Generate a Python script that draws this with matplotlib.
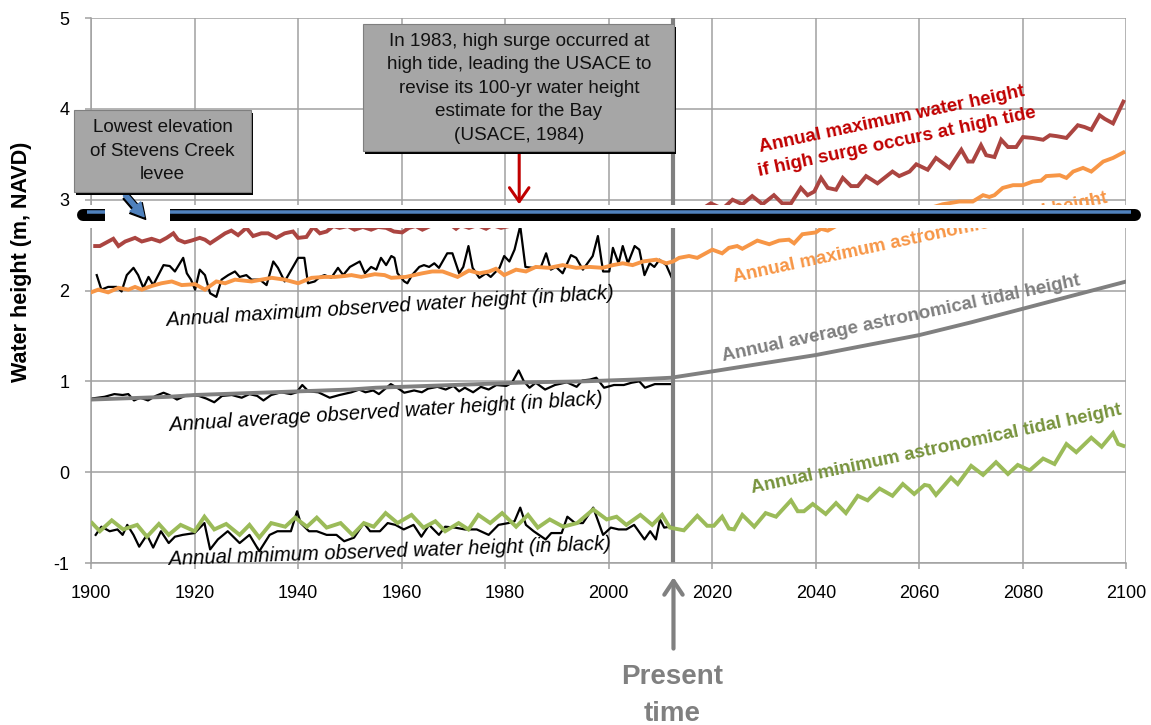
import matplotlib.pyplot as plt
from matplotlib import transforms
from matplotlib.patches import Rectangle, FancyArrowPatch

plt.rcParams['font.family'] = ['Liberation Sans', 'DejaVu Sans']
plt.rcParams['axes.unicode_minus'] = False

# ---- data (year, metres NAVD) ----
present_year = 2012.5
levee_elev = 2.86

RED = [(1900.8, 2.49), (1901.7, 2.49), (1903.0, 2.53), (1904.3, 2.57), (1905.3, 2.49), (1906.6, 2.54),
       (1908.5, 2.58), (1909.8, 2.54), (1911.7, 2.57), (1913.3, 2.54), (1914.6, 2.58), (1915.9, 2.63),
       (1916.8, 2.56), (1918.1, 2.53), (1919.4, 2.55), (1921.0, 2.58), (1922.0, 2.56), (1923.0, 2.52),
       (1924.6, 2.58), (1925.9, 2.63), (1927.1, 2.66), (1928.4, 2.61), (1930.0, 2.69), (1931.3, 2.60),
       (1932.9, 2.63), (1934.2, 2.63), (1935.8, 2.58), (1937.4, 2.63), (1939.0, 2.65), (1940.0, 2.58),
       (1941.6, 2.59), (1942.9, 2.70), (1944.2, 2.63), (1945.5, 2.65), (1946.8, 2.71), (1948.0, 2.69),
       (1949.6, 2.71), (1950.9, 2.67), (1952.5, 2.70), (1954.1, 2.67), (1955.4, 2.70), (1957.0, 2.69),
       (1958.5, 2.65), (1960.1, 2.64), (1961.4, 2.69), (1962.7, 2.71), (1964.0, 2.67), (1965.9, 2.72),
       (1967.2, 2.71), (1968.8, 2.75), (1970.5, 2.68), (1971.4, 2.72), (1973.0, 2.69), (1974.6, 2.72),
       (1976.3, 2.68), (1977.5, 2.72), (1979.2, 2.69), (1980.8, 2.71), (1981.7, 2.74), (1983.0, 2.78),
       (1985.0, 2.76), (1988.0, 2.79), (1990.0, 2.77), (1993.0, 2.80), (1995.0, 2.78), (1997.9, 2.75),
       (2000.0, 2.80), (2003.0, 2.82), (2006.0, 2.80), (2009.0, 2.84), (2012.0, 2.83), (2015.0, 2.88),
       (2017.0, 2.86), (2019.7, 2.96), (2022.0, 2.90), (2023.9, 3.00), (2025.8, 2.95), (2027.7, 3.04),
       (2029.7, 2.95), (2031.9, 3.05), (2033.5, 2.96), (2035.2, 2.96), (2037.1, 3.13), (2038.4, 3.05),
       (2039.7, 3.09), (2041.0, 3.24), (2042.3, 3.13), (2043.9, 3.11), (2045.2, 3.24), (2046.8, 3.15),
       (2048.1, 3.15), (2049.7, 3.26), (2051.9, 3.18), (2054.8, 3.31), (2056.1, 3.26), (2058.1, 3.31),
       (2059.4, 3.39), (2061.6, 3.33), (2063.2, 3.46), (2065.8, 3.35), (2068.1, 3.55), (2069.4, 3.42),
       (2070.3, 3.42), (2071.9, 3.60), (2072.9, 3.49), (2074.5, 3.47), (2075.8, 3.66), (2077.1, 3.58),
       (2078.7, 3.58), (2080.0, 3.69), (2081.9, 3.68), (2083.9, 3.66), (2085.2, 3.71), (2086.5, 3.70),
       (2088.4, 3.68), (2090.6, 3.82), (2091.9, 3.80), (2093.2, 3.77), (2094.8, 3.93), (2095.8, 3.89),
       (2097.4, 3.84), (2099.4, 4.08)]

ORANGE = [(1900.0, 1.98), (1901.4, 2.01), (1903.3, 1.98), (1905.3, 2.03), (1907.2, 2.01), (1908.5, 2.04),
          (1909.8, 2.01), (1911.7, 2.05), (1913.6, 2.08), (1915.6, 2.10), (1917.5, 2.06), (1920.1, 2.07),
          (1922.0, 2.01), (1924.2, 2.10), (1925.9, 2.08), (1927.8, 2.12), (1931.0, 2.10), (1932.9, 2.12),
          (1934.9, 2.14), (1937.4, 2.12), (1940.0, 2.08), (1942.6, 2.14), (1945.1, 2.15), (1947.1, 2.15),
          (1949.0, 2.16), (1950.3, 2.17), (1952.2, 2.15), (1954.8, 2.18), (1956.7, 2.17), (1958.0, 2.14),
          (1960.8, 2.15), (1962.4, 2.17), (1964.0, 2.19), (1965.9, 2.21), (1967.9, 2.21), (1970.8, 2.15),
          (1973.0, 2.22), (1975.0, 2.19), (1976.9, 2.21), (1978.2, 2.24), (1979.8, 2.17), (1982.1, 2.23),
          (1984.0, 2.21), (1985.9, 2.26), (1988.5, 2.25), (1991.1, 2.28), (1993.7, 2.25), (1996.3, 2.26),
          (1998.8, 2.25), (2000.8, 2.28), (2002.7, 2.30), (2004.6, 2.28), (2006.6, 2.32), (2009.2, 2.34),
          (2011.1, 2.30), (2012.4, 2.32), (2013.6, 2.36), (2015.5, 2.38), (2017.1, 2.36), (2020.0, 2.45),
          (2021.9, 2.41), (2023.2, 2.47), (2024.8, 2.49), (2025.8, 2.46), (2028.7, 2.55), (2031.0, 2.51),
          (2032.9, 2.55), (2034.8, 2.56), (2035.8, 2.52), (2037.4, 2.62), (2040.0, 2.64), (2041.0, 2.68),
          (2042.3, 2.66), (2043.9, 2.71), (2046.5, 2.73), (2049.0, 2.74), (2052.0, 2.78), (2055.0, 2.82),
          (2058.0, 2.86), (2061.0, 2.89), (2064.5, 2.95), (2067.7, 2.98), (2070.3, 2.98), (2072.3, 3.05),
          (2073.5, 3.03), (2074.5, 3.05), (2076.1, 3.13), (2078.1, 3.16), (2080.0, 3.16), (2081.9, 3.20),
          (2083.5, 3.21), (2084.5, 3.26), (2087.1, 3.27), (2088.4, 3.24), (2089.7, 3.31), (2091.6, 3.35),
          (2093.2, 3.31), (2095.5, 3.42), (2097.4, 3.46), (2099.4, 3.52)]

GRAY = [(1900, 0.80), (1905, 0.81), (1910, 0.82), (1915, 0.83), (1920, 0.85), (1925, 0.86), (1930, 0.87),
        (1935, 0.88), (1940, 0.89), (1945, 0.90), (1950, 0.91), (1955, 0.93), (1960, 0.94), (1965, 0.95),
        (1970, 0.96), (1975, 0.97), (1980, 0.98), (1985, 0.99), (1990, 0.995), (1995, 1.00), (2000, 1.01),
        (2005, 1.02), (2012, 1.04), (2020, 1.11), (2030, 1.20), (2040, 1.29), (2050, 1.40), (2060, 1.51),
        (2070, 1.65), (2080, 1.80), (2090, 1.95), (2100, 2.10)]

GREEN = [(1900.2, -0.56), (1901.7, -0.65), (1904.0, -0.53), (1906.2, -0.63), (1908.9, -0.58), (1910.8, -0.71),
         (1913.1, -0.57), (1915.0, -0.69), (1917.3, -0.58), (1920.0, -0.65), (1921.9, -0.49), (1923.8, -0.63),
         (1926.1, -0.57), (1928.7, -0.69), (1930.6, -0.58), (1932.5, -0.72), (1934.8, -0.56), (1937.5, -0.60),
         (1939.4, -0.50), (1941.7, -0.60), (1943.6, -0.50), (1945.5, -0.61), (1948.2, -0.56), (1950.5, -0.69),
         (1952.7, -0.56), (1954.6, -0.60), (1956.9, -0.45), (1959.2, -0.56), (1961.9, -0.47), (1964.2, -0.61),
         (1966.5, -0.54), (1968.4, -0.65), (1971.0, -0.56), (1972.9, -0.63), (1974.8, -0.47), (1977.1, -0.56),
         (1979.4, -0.45), (1982.1, -0.60), (1984.4, -0.47), (1986.3, -0.61), (1988.6, -0.52), (1991.2, -0.60),
         (1993.9, -0.56), (1997.0, -0.41), (1999.6, -0.52), (2001.5, -0.49), (2003.4, -0.58), (2006.1, -0.47),
         (2008.4, -0.58), (2010.3, -0.47), (2011.8, -0.61), (2014.5, -0.64), (2017.1, -0.48), (2019.0, -0.59),
         (2020.3, -0.59), (2021.9, -0.49), (2023.2, -0.62), (2024.2, -0.63), (2025.8, -0.47), (2028.1, -0.60),
         (2030.3, -0.45), (2032.3, -0.49), (2035.2, -0.31), (2036.5, -0.43), (2037.7, -0.43), (2039.4, -0.35),
         (2041.9, -0.46), (2043.9, -0.34), (2045.8, -0.45), (2048.1, -0.26), (2050.0, -0.31), (2052.3, -0.18),
         (2054.8, -0.26), (2056.8, -0.13), (2059.0, -0.24), (2061.0, -0.14), (2061.9, -0.15), (2063.2, -0.25),
         (2066.1, -0.06), (2067.4, -0.13), (2070.0, 0.07), (2072.3, -0.03), (2074.8, 0.11), (2077.1, -0.02),
         (2079.0, 0.08), (2081.3, 0.02), (2083.9, 0.15), (2086.1, 0.09), (2088.4, 0.31), (2090.3, 0.22),
         (2093.2, 0.38), (2095.2, 0.28), (2097.4, 0.43), (2098.4, 0.31), (2099.4, 0.29)]

OBS_MAX = [(1901.1, 2.17), (1902.0, 2.01), (1903.3, 2.04), (1905.0, 2.04), (1905.9, 1.99), (1906.9, 2.17),
           (1908.2, 2.25), (1909.1, 2.17), (1910.1, 2.03), (1911.1, 2.15), (1912.0, 2.06), (1914.0, 2.28),
           (1915.2, 2.27), (1916.2, 2.21), (1917.8, 2.36), (1918.5, 2.19), (1919.3, 2.12), (1920.1, 2.01),
           (1921.0, 2.23), (1922.0, 2.17), (1923.0, 1.97), (1924.2, 1.93), (1925.2, 2.12), (1926.5, 2.17),
           (1927.8, 2.21), (1928.7, 2.15), (1930.0, 2.17), (1931.0, 2.12), (1932.6, 2.12), (1933.9, 2.06),
           (1935.2, 2.32), (1936.1, 2.25), (1937.4, 2.10), (1938.7, 2.23), (1940.0, 2.36), (1941.2, 2.36),
           (1941.9, 2.08), (1943.2, 2.10), (1944.2, 2.15), (1945.1, 2.17), (1946.4, 2.14), (1947.7, 2.25),
           (1948.7, 2.17), (1950.0, 2.26), (1951.9, 2.32), (1952.9, 2.19), (1954.1, 2.26), (1955.1, 2.23),
           (1956.0, 2.36), (1957.0, 2.28), (1958.0, 2.38), (1958.6, 2.36), (1959.2, 2.19), (1960.5, 2.10),
           (1961.1, 2.08), (1962.0, 2.17), (1963.4, 2.26), (1964.3, 2.28), (1965.3, 2.26), (1966.3, 2.30),
           (1967.2, 2.25), (1968.8, 2.41), (1969.8, 2.41), (1971.1, 2.19), (1971.9, 2.26), (1972.9, 2.49),
           (1973.7, 2.25), (1975.0, 2.14), (1976.3, 2.19), (1977.2, 2.15), (1978.9, 2.25), (1979.8, 2.38),
           (1980.8, 2.32), (1981.8, 2.45), (1982.9, 2.71), (1983.9, 2.26), (1985.3, 2.25), (1986.9, 2.26),
           (1987.9, 2.41), (1988.8, 2.23), (1989.8, 2.26), (1991.1, 2.19), (1992.7, 2.39), (1993.7, 2.36),
           (1995.0, 2.23), (1996.9, 2.38), (1997.9, 2.60), (1998.9, 2.21), (2000.1, 2.21), (2000.8, 2.47),
           (2001.9, 2.30), (2002.7, 2.49), (2003.7, 2.30), (2005.0, 2.49), (2005.9, 2.45), (2006.9, 2.17),
           (2007.9, 2.30), (2008.8, 2.26), (2009.8, 2.34), (2011.1, 2.28), (2012.1, 2.15)]

OBS_AVG = [(1900.0, 0.81), (1902.6, 0.83), (1904.5, 0.86), (1906.1, 0.85), (1907.2, 0.86), (1908.3, 0.79),
           (1909.5, 0.82), (1911.0, 0.79), (1912.5, 0.84), (1914.0, 0.875), (1915.1, 0.85), (1916.6, 0.80),
           (1918.5, 0.85), (1920.8, 0.84), (1922.3, 0.81), (1923.8, 0.77), (1925.3, 0.84), (1927.2, 0.85),
           (1929.1, 0.82), (1930.6, 0.86), (1932.1, 0.84), (1933.3, 0.79), (1934.8, 0.85), (1936.7, 0.88),
           (1938.6, 0.86), (1939.7, 0.88), (1940.8, 0.96), (1942.0, 0.89), (1943.9, 0.88), (1946.1, 0.82),
           (1948.0, 0.85), (1950.3, 0.88), (1951.8, 0.91), (1953.0, 0.88), (1954.5, 0.90), (1955.6, 0.86),
           (1957.9, 0.97), (1959.4, 0.92), (1960.5, 0.875), (1962.4, 0.90), (1963.9, 0.88), (1965.1, 0.92),
           (1966.9, 0.94), (1968.5, 0.91), (1970.0, 0.95), (1971.1, 0.89), (1972.2, 0.93), (1973.8, 0.88),
           (1975.3, 0.94), (1976.8, 0.91), (1978.3, 0.96), (1980.2, 0.95), (1981.3, 0.985), (1982.6, 1.12),
           (1983.6, 1.00), (1984.7, 0.93), (1985.9, 0.985), (1987.7, 0.91), (1989.6, 0.96), (1991.9, 0.99),
           (1993.8, 0.94), (1994.9, 1.01), (1996.4, 1.02), (1997.6, 1.04), (1999.1, 0.93), (2001.0, 0.96),
           (2002.9, 0.96), (2004.4, 0.985), (2005.9, 1.00), (2007.0, 0.93), (2008.9, 0.97), (2012.0, 0.97)]

OBS_MIN = [(1900.9, -0.69), (1902.0, -0.60), (1903.6, -0.65), (1905.1, -0.63), (1906.1, -0.69), (1907.0, -0.58),
           (1908.2, -0.69), (1909.3, -0.82), (1910.8, -0.69), (1912.0, -0.83), (1913.5, -0.65), (1915.0, -0.78),
           (1916.2, -0.71), (1917.7, -0.69), (1920.0, -0.67), (1921.9, -0.56), (1923.0, -0.85), (1924.5, -0.74),
           (1926.4, -0.65), (1928.7, -0.78), (1930.6, -0.69), (1932.5, -0.87), (1934.5, -0.69), (1936.0, -0.65),
           (1938.6, -0.65), (1939.8, -0.43), (1940.5, -0.56), (1942.1, -0.65), (1943.6, -0.65), (1945.5, -0.69),
           (1947.4, -0.69), (1948.9, -0.76), (1950.8, -0.72), (1952.7, -0.56), (1953.9, -0.65), (1955.8, -0.65),
           (1957.3, -0.56), (1958.8, -0.58), (1960.4, -0.63), (1962.3, -0.58), (1963.8, -0.71), (1965.3, -0.58),
           (1967.2, -0.69), (1968.4, -0.60), (1970.3, -0.61), (1972.2, -0.63), (1974.5, -0.63), (1976.8, -0.69),
           (1978.7, -0.58), (1980.6, -0.56), (1981.8, -0.54), (1982.9, -0.39), (1984.0, -0.58), (1985.5, -0.65),
           (1987.8, -0.74), (1988.9, -0.67), (1990.9, -0.67), (1992.0, -0.49), (1993.5, -0.56), (1995.0, -0.56),
           (1997.0, -0.39), (1998.9, -0.69), (2000.4, -0.61), (2001.9, -0.63), (2003.4, -0.63), (2004.9, -0.58),
           (2006.9, -0.74), (2008.0, -0.65), (2009.1, -0.74), (2009.9, -0.52), (2010.7, -0.61), (2011.8, -0.60)]

x_ticks = [1900, 1920, 1940, 1960, 1980, 2000, 2020, 2040, 2060, 2080, 2100]
y_ticks = [-1, 0, 1, 2, 3, 4, 5]

fig = plt.figure(figsize=(11.51, 7.25), dpi=100)
ax = fig.add_axes([0.0791, 0.2234, 0.8996, 0.7517])
ax.set_xlim(1900, 2100)
ax.set_ylim(-1, 5)
ax.set_xticks(x_ticks)
ax.set_yticks(y_ticks)
ax.grid(True, color='#a0a0a0', lw=1.1, zorder=0)
ax.set_axisbelow(True)
for s in ['top', 'right']:
    ax.spines[s].set_visible(False)
for s in ['left', 'bottom']:
    ax.spines[s].set_color('#a0a0a0')
    ax.spines[s].set_linewidth(1.1)
ax.tick_params(length=4.5, width=1.1, color='#a0a0a0', labelsize=13, pad=11)

# observed (black) first, model lines over them
for pts in [OBS_MAX, OBS_AVG, OBS_MIN]:
    xs, ys = zip(*pts)
    ax.plot(xs, ys, color='black', lw=1.6, zorder=2)

ax.axvline(present_year, color='#808080', lw=3, zorder=2.5)

series = [(GRAY, '#808080'), (GREEN, '#9bbb59'), (ORANGE, '#f79646'), (RED, '#ab4541')]
for pts, c in series:
    xs, ys = zip(*pts)
    ax.plot(xs, ys, color=c, lw=2.8, zorder=3, solid_joinstyle='miter')

# line labels
lab = dict(fontsize=13.5, fontweight='bold', ha='center', va='center', rotation_mode='anchor', zorder=4)
ax.text(2055.2, 3.76, 'Annual maximum water height\nif high surge occurs at high tide', color='#c00000',
        rotation=12, linespacing=1.5, **lab)
ax.text(2060.2, 2.58, 'Annual maximum astronomical tidal height', color='#f79646', rotation=12, **lab)
ax.text(2056.5, 1.69, 'Annual average astronomical tidal height', color='#7f7f7f', rotation=12, **lab)
ax.text(2063.2, 0.25, 'Annual minimum astronomical tidal height', color='#77933c', rotation=12, **lab)

obs = dict(fontsize=14.5, style='italic', ha='center', va='center', rotation_mode='anchor', zorder=4)
ax.text(1957.8, 1.82, 'Annual maximum observed water height (in black)', rotation=3.5, **obs)
ax.text(1957.0, 0.665, 'Annual average observed water height (in black)', rotation=3.5, **obs)
ax.text(1957.8, -0.875, 'Annual minimum observed water height (in black)', rotation=2, **obs)

# levee elevation bar
lx = [1898.5, 2101.7]
px = 1 / 100 * 72  # one pixel in points
tr_white = transforms.offset_copy(ax.transData, fig=fig, y=-3.5 * px, units='points')
tr_black = transforms.offset_copy(ax.transData, fig=fig, y=-3 * px, units='points')
ax.plot(lx, [levee_elev] * 2, color='white', lw=23 * px, transform=tr_white, zorder=5, clip_on=False,
        solid_capstyle='butt')
ax.plot(lx, [levee_elev] * 2, color='black', lw=12 * px, transform=tr_black, zorder=5.1, clip_on=False,
        solid_capstyle='round')
ax.plot([1899.2, 2100.8], [levee_elev] * 2, color='#4f81bd', lw=3.5 * px, zorder=5.2, clip_on=False,
        solid_capstyle='butt')
ax.add_patch(Rectangle((1902.7, 2.69), 12.6, 0.28, facecolor='white', edgecolor='none', zorder=5.3,
                       clip_on=False))

# arrow from the levee callout
arr_black = FancyArrowPatch((1906.4, 3.06), (1910.9, 2.76), arrowstyle='simple,head_length=0.9,head_width=1.0,tail_width=0.45',
                            mutation_scale=12, color='black', zorder=5.5, clip_on=False)
arr_blue = FancyArrowPatch((1906.2, 3.08), (1910.6, 2.79), arrowstyle='simple,head_length=0.8,head_width=0.85,tail_width=0.25',
                           mutation_scale=12, color='#4f81bd', zorder=5.6, clip_on=False)
ax.add_patch(arr_black)
ax.add_patch(arr_blue)

# callout boxes (axes fraction)
def callout(x0, y0, x1, y1, text, cx, cy, ls):
    ax.add_patch(Rectangle((x0 + 0.0015, y0 - 0.005), x1 - x0, y1 - y0, transform=ax.transAxes,
                           facecolor='black', edgecolor='none', zorder=8, clip_on=False))
    ax.add_patch(Rectangle((x0, y0), x1 - x0, y1 - y0, transform=ax.transAxes,
                           facecolor='#a6a6a6', edgecolor='#7f7f7f', lw=0.8, zorder=8.1, clip_on=False))
    ax.text(cx, cy, text, transform=ax.transAxes, ha='center', va='center', fontsize=13.6,
            linespacing=ls, color='#111111', zorder=9)

callout(-0.0164, 0.681, 0.1545, 0.831, 'Lowest elevation\nof Stevens Creek\nlevee', 0.069, 0.756, 1.5)
callout(0.2627, 0.756, 0.5630, 0.989,
        'In 1983, high surge occurred at\nhigh tide, leading the USACE to\nrevise its 100-yr water height\n'
        'estimate for the Bay\n(USACE, 1984)', 0.4133, 0.8716, 1.5)

ax.annotate('', xy=(1982.7, 2.95), xytext=(1982.7, 3.53),
            arrowprops=dict(arrowstyle='->,head_length=0.5,head_width=0.35', color='#c00000', lw=2.2,
                            mutation_scale=20, shrinkA=0, shrinkB=0), zorder=7)

# present time marker
btrans = transforms.blended_transform_factory(ax.transData, ax.transAxes)
ax.annotate('', xy=(present_year, -0.026), xycoords=btrans, xytext=(present_year, -0.157), textcoords=btrans,
            arrowprops=dict(arrowstyle='->,head_length=0.45,head_width=0.3', color='#808080', lw=3,
                            mutation_scale=22, shrinkA=0, shrinkB=0), annotation_clip=False)
fig.text(672 / 1151, 1 - 664 / 725, 'Present\ntime', ha='center', va='top', fontsize=20, fontweight='bold',
         color='#808080', linespacing=1.55)

fig.text(22 / 1151, 1 - 262 / 725, 'Water height (m, NAVD)', rotation=90, ha='center', va='center',
         fontsize=15.5, fontweight='bold')

fig.savefig('out.png', dpi=100)
